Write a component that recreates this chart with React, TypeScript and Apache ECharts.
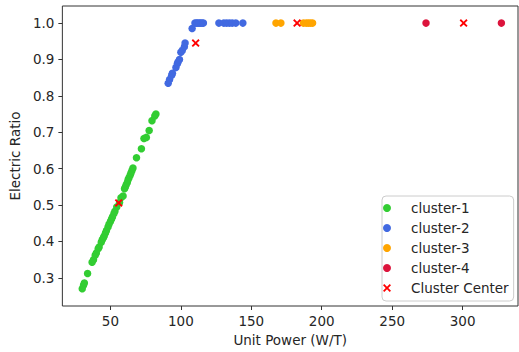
import React, { useEffect, useRef } from "react";
import * as echarts from "echarts";

const cluster1X = [30.0, 30.9, 31.5, 33.8, 37.0, 38.0, 39.2, 40.0, 41.3, 42.0, 43.5, 44.2, 45.0, 45.6, 46.5, 47.2, 48.3, 49.0, 50.0, 50.8, 51.5, 52.5, 53.2, 54.5, 56.5, 57.5, 59.0, 60.0, 60.6, 61.2, 62.0, 62.6, 63.2, 64.0, 64.6, 65.3, 66.0, 68.5, 72.0, 73.8, 75.5, 77.5, 79.5, 81.5, 82.3];
const cluster1Y = [0.270, 0.280, 0.286, 0.312, 0.343, 0.350, 0.362, 0.368, 0.380, 0.385, 0.398, 0.405, 0.410, 0.415, 0.423, 0.430, 0.440, 0.447, 0.455, 0.462, 0.468, 0.477, 0.483, 0.495, 0.507, 0.520, 0.525, 0.545, 0.550, 0.556, 0.562, 0.570, 0.575, 0.582, 0.588, 0.595, 0.602, 0.630, 0.655, 0.683, 0.686, 0.705, 0.732, 0.745, 0.750];

const cluster2X = [91.0, 92.0, 93.5, 94.0, 96.5, 97.5, 98.0, 99.0, 100.0, 101.0, 102.5, 103.0, 108.0, 110.0, 111.0, 112.0, 113.0, 114.0, 115.0, 116.0, 127.0, 130.5, 132.5, 134.5, 136.5, 139.0, 144.0];
const cluster2Y = [0.835, 0.845, 0.857, 0.862, 0.878, 0.888, 0.893, 0.900, 0.920, 0.925, 0.935, 0.945, 0.985, 1.0, 1.0, 1.0, 1.0, 1.0, 1.0, 1.0, 1.0, 1.0, 1.0, 1.0, 1.0, 1.0, 1.0];

const cluster3X = [167.5, 171.0, 187.0, 189.0, 190.5, 192.0, 193.5];
const cluster3Y = [1.0, 1.0, 1.0, 1.0, 1.0, 1.0, 1.0];

const cluster4X = [274.0, 327.5];
const cluster4Y = [1.0, 1.0];

const centerX = [55.9, 110.5, 182.5, 300.7];
const centerY = [0.506, 0.945, 1.0, 1.0];

const xTicks = [50, 100, 150, 200, 250, 300];
const yTicks = [0.3, 0.4, 0.5, 0.6, 0.7, 0.8, 0.9, 1.0];

const seriesNames = ["cluster-1", "cluster-2", "cluster-3", "cluster-4", "Cluster Center"];
const seriesColors = ["#32CD32", "#4169E1", "#FFA500", "#DC143C", "#FF0000"];

const X_PATH = "path://M0,1.6 L1.6,0 L5,3.4 L8.4,0 L10,1.6 L6.6,5 L10,8.4 L8.4,10 L5,6.6 L1.6,10 L0,8.4 L3.4,5 Z";

const zip = (xs: number[], ys: number[]) => xs.map((x, i) => [x, ys[i]]);

export default function App() {
  const ref = useRef<HTMLDivElement>(null);
  useEffect(() => {
    document.body.style.margin = "0";
    if (!ref.current) return;
    const chart = echarts.init(ref.current, null, { renderer: "svg" });
    const font = "DejaVu Sans";
    const textColor = "#262626";
    const datasets = [
      zip(cluster1X, cluster1Y),
      zip(cluster2X, cluster2Y),
      zip(cluster3X, cluster3Y),
      zip(cluster4X, cluster4Y),
      zip(centerX, centerY),
    ];
    chart.setOption({
      animation: false,
      backgroundColor: "#ffffff",
      textStyle: { fontFamily: font },
      grid: {
        left: 60,
        right: 1,
        top: 6,
        bottom: 45,
        show: true,
        borderColor: "#333333",
        borderWidth: 1,
        backgroundColor: "transparent",
      },
      xAxis: {
        type: "value",
        min: 15.9,
        max: 339.3,
        name: "Unit Power (W/T)",
        nameLocation: "middle",
        nameGap: 27,
        nameTextStyle: { fontSize: 13.5, color: textColor, fontFamily: font },
        axisLine: { show: false },
        splitLine: { show: false },
        axisTick: {
          show: true,
          length: 4,
          customValues: xTicks,
          lineStyle: { color: "#333333" },
        },
        axisLabel: {
          customValues: xTicks,
          fontSize: 13.5,
          color: textColor,
          margin: 8,
          fontFamily: font,
          formatter: (v: number) => String(Math.round(v)),
        },
      },
      yAxis: {
        type: "value",
        min: 0.2227,
        max: 1.047,
        name: "Electric Ratio",
        nameLocation: "middle",
        nameGap: 38,
        nameTextStyle: { fontSize: 13.5, color: textColor, fontFamily: font },
        axisLine: { show: false },
        splitLine: { show: false },
        axisTick: {
          show: true,
          length: 4,
          customValues: yTicks,
          lineStyle: { color: "#333333" },
        },
        axisLabel: {
          customValues: yTicks,
          fontSize: 13.5,
          color: textColor,
          margin: 8,
          fontFamily: font,
          formatter: (v: number) => v.toFixed(1),
        },
      },
      legend: {
        left: 382,
        top: 196,
        orient: "vertical",
        padding: [2, 5, 3, 1],
        itemWidth: 38,
        itemHeight: 8,
        itemGap: 0,
        borderColor: "#cccccc",
        borderWidth: 1,
        borderRadius: 4,
        backgroundColor: "rgba(255,255,255,0.8)",
        textStyle: { fontSize: 13.5, color: textColor, fontFamily: font, lineHeight: 20 },
        data: seriesNames.map((n, i) => ({ name: n, icon: i === 4 ? X_PATH : "circle" })),
      },
      series: datasets.map((d, i) => ({
        type: "scatter",
        name: seriesNames[i],
        data: d,
        symbol: i === 4 ? X_PATH : "circle",
        symbolSize: i === 4 ? 8 : 7.5,
        itemStyle: { color: seriesColors[i], opacity: 1 },
        z: i === 4 ? 5 : 2,
      })),
    });
    return () => chart.dispose();
  }, []);
  return <div ref={ref} style={{ width: 519, height: 352 }} />;
}
